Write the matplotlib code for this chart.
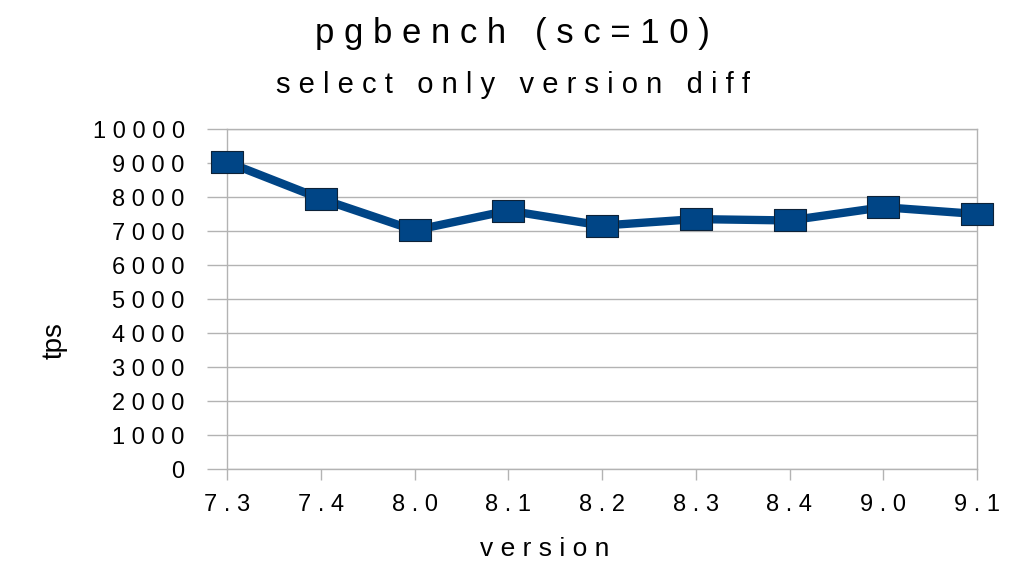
import matplotlib.pyplot as plt
from matplotlib.ticker import FixedLocator

plt.rcParams['font.family'] = ['Liberation Sans', 'DejaVu Sans']

# data
versions = ['7.3', '7.4', '8.0', '8.1', '8.2', '8.3', '8.4', '9.0', '9.1']
tps = [9030, 7950, 7020, 7600, 7160, 7350, 7310, 7700, 7500]
y_ticks = [0, 1000, 2000, 3000, 4000, 5000, 6000, 7000, 8000, 9000, 10000]


def spaced(s):
    # the original renders every label letter-spaced
    return ' '.join(s)


grid_col = '#b3b3b3'
line_col = '#004586'

fig = plt.figure(figsize=(10.24, 5.76), dpi=100)
ax = fig.add_axes([227 / 1024, 1 - 469 / 576, 750 / 1024, 340 / 576])

x = list(range(len(versions)))
rect = [(-1.5, -1), (1.5, -1), (1.5, 1), (-1.5, 1), (-1.5, -1)]
ax.plot(x, tps, color=line_col, linewidth=6, marker=rect, markersize=23,
        markerfacecolor=line_col, markeredgecolor='#0d2238', markeredgewidth=0.8,
        clip_on=False, zorder=3)

ax.set_xlim(0, len(versions) - 1)
ax.set_ylim(0, 10000)
ax.set_xticks(x)
ax.set_xticklabels([spaced(v) for v in versions])
ax.yaxis.set_major_locator(FixedLocator(y_ticks))
ax.set_yticklabels([spaced(str(v)) for v in y_ticks])

ax.grid(True, axis='y', color=grid_col, linewidth=1)
ax.set_axisbelow(True)
for sp in ax.spines.values():
    sp.set_color(grid_col)
    sp.set_linewidth(1)

ax.tick_params(axis='y', length=14.5, width=1, color=grid_col, pad=16, labelsize=17)
ax.tick_params(axis='x', length=8, width=1, color=grid_col, pad=10, labelsize=17)

fig.text(512 / 1024, 1 - 33 / 576, spaced('pgbench (sc=10)'), ha='center', va='center', fontsize=25)
fig.text(513 / 1024, 1 - 85 / 576, spaced('select only version diff'), ha='center', va='center', fontsize=21)
fig.text(55 / 1024, 1 - 341 / 576, 'tps', rotation=90, ha='center', va='center', fontsize=20)
fig.text(545 / 1024, 1 - 549 / 576, spaced('version'), ha='center', va='center', fontsize=19)

plt.savefig('out.png', dpi=100)
